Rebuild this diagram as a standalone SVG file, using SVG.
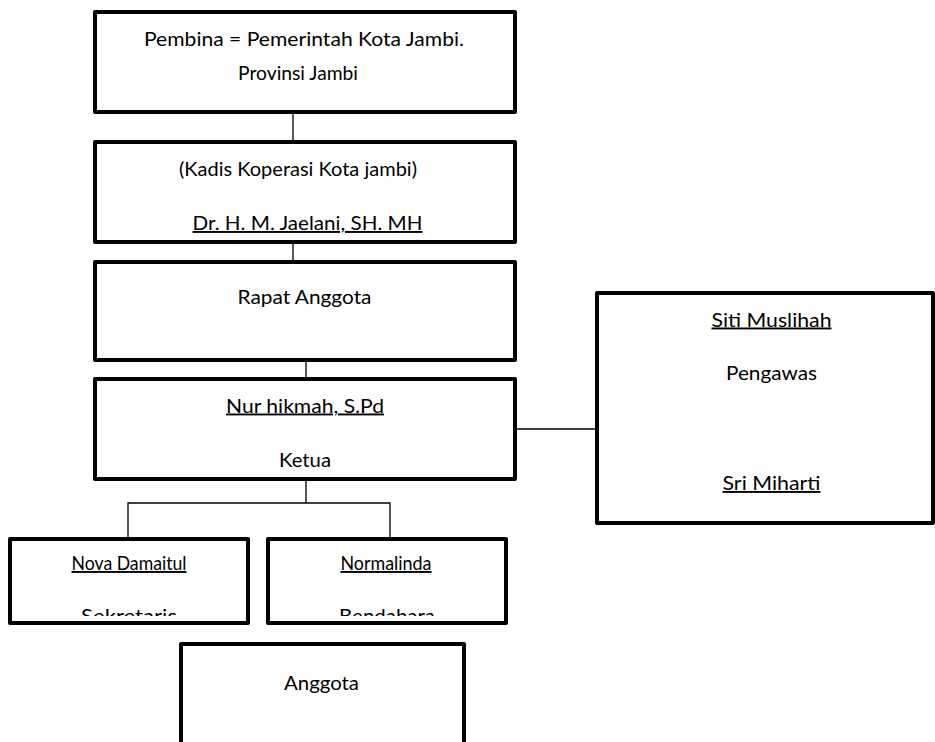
<svg xmlns="http://www.w3.org/2000/svg" width="935" height="742" viewBox="0 0 935 742">
<style>
.box{fill:#fff;stroke:#000;stroke-width:4;stroke-linejoin:round}
.conn{stroke:#000;stroke-width:1.3;fill:none}
text{font-family:Lato,"Open Sans","Noto Sans",sans-serif;font-size:19px;fill:#000;text-anchor:middle}
.u{text-decoration:underline}
</style>
<defs>
<clipPath id="clipSek"><rect x="12" y="540" width="234" height="76"/></clipPath>
<clipPath id="clipBen"><rect x="270" y="540" width="234" height="76"/></clipPath>
</defs>
<rect width="935" height="742" fill="#fff"/>
<g id="connectors">
<line class="conn" x1="293" y1="112" x2="293" y2="142"/>
<line class="conn" x1="293" y1="242" x2="293" y2="262"/>
<line class="conn" x1="306" y1="360" x2="306" y2="379"/>
<line class="conn" x1="515" y1="429" x2="597" y2="429"/>
<polyline class="conn" points="306,479 306,503"/>
<polyline class="conn" points="128,537 128,503 390,503 390,537"/>
</g>
<g id="pembina">
<rect class="box" x="95" y="12" width="420" height="100"/>
<text x="304" y="46" textLength="320" lengthAdjust="spacingAndGlyphs">Pembina = Pemerintah Kota Jambi.</text>
<text x="298" y="80" textLength="120" lengthAdjust="spacingAndGlyphs">Provinsi Jambi</text>
</g>
<g id="kadis">
<rect class="box" x="95" y="142" width="420" height="100"/>
<text x="298" y="176" textLength="238" lengthAdjust="spacingAndGlyphs">(Kadis Koperasi Kota jambi)</text>
<text class="u" x="307.5" y="230" textLength="230" lengthAdjust="spacingAndGlyphs">Dr. H. M. Jaelani, SH. MH</text>
</g>
<g id="rapat">
<rect class="box" x="95" y="262" width="420" height="98"/>
<text x="304.5" y="304" textLength="134" lengthAdjust="spacingAndGlyphs">Rapat Anggota</text>
</g>
<g id="ketua">
<rect class="box" x="95" y="379" width="420" height="100"/>
<text class="u" x="305" y="412.5" textLength="158" lengthAdjust="spacingAndGlyphs">Nur hikmah, S.Pd</text>
<text x="305" y="466.5" textLength="52" lengthAdjust="spacingAndGlyphs">Ketua</text>
</g>
<g id="pengawas">
<rect class="box" x="597" y="293" width="336" height="230"/>
<text class="u" x="771.5" y="326.5" textLength="120" lengthAdjust="spacingAndGlyphs">Siti Muslihah</text>
<text x="771.5" y="380" textLength="91" lengthAdjust="spacingAndGlyphs">Pengawas</text>
<text class="u" x="771.5" y="490" textLength="98" lengthAdjust="spacingAndGlyphs">Sri Miharti</text>
</g>
<g id="sekretaris">
<rect class="box" x="10" y="539" width="238" height="84"/>
<text class="u" x="129" y="570" textLength="115" lengthAdjust="spacingAndGlyphs">Nova Damaitul</text>
<text x="129" y="623" clip-path="url(#clipSek)" textLength="96" lengthAdjust="spacingAndGlyphs">Sekretaris</text>
</g>
<g id="bendahara">
<rect class="box" x="268" y="539" width="238" height="84"/>
<text class="u" x="386" y="570" textLength="91" lengthAdjust="spacingAndGlyphs">Normalinda</text>
<text x="387" y="623" clip-path="url(#clipBen)" textLength="96" lengthAdjust="spacingAndGlyphs">Bendahara</text>
</g>
<g id="anggota">
<rect class="box" x="181" y="644" width="283" height="120"/>
<text x="321.5" y="690" textLength="75" lengthAdjust="spacingAndGlyphs">Anggota</text>
</g>
</svg>
